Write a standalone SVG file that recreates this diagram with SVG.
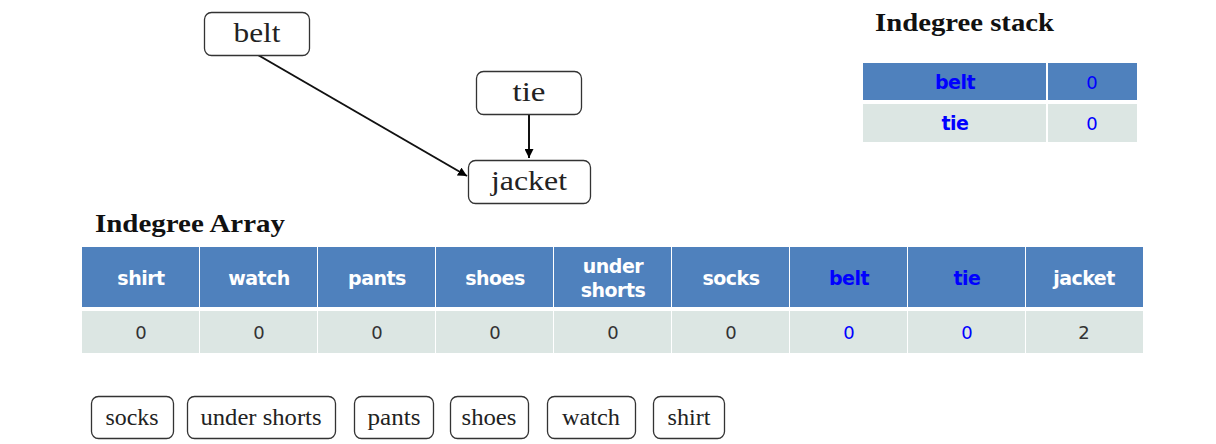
<svg xmlns="http://www.w3.org/2000/svg" width="1216" height="444" viewBox="0 0 1216 444">
<defs>
<marker id="arr" viewBox="0 0 10 10" refX="10" refY="5" markerWidth="9" markerHeight="9" markerUnits="userSpaceOnUse" orient="auto"><path d="M0,0 L10,5 L0,10 z" fill="#000"/></marker>
<style>
.node rect{fill:#fff;stroke:#333;stroke-width:1.3}
.node text{font-family:"Liberation Serif",serif;fill:#222;text-anchor:middle}
.big{font-size:27px}
.small{font-size:23px}
.title{font-family:"Liberation Serif",serif;font-weight:bold;font-size:26px;fill:#111}
.hd{fill:#4F81BD}
.vl{fill:#DCE6E3}
.ht{font-family:"DejaVu Sans",sans-serif;font-weight:bold;font-size:19px;fill:#fff;text-anchor:middle;letter-spacing:-0.5px}
.vt{font-family:"DejaVu Sans",sans-serif;font-size:18px;fill:#333;text-anchor:middle}
.blue{fill:#0000FF}
.conn line{stroke:#111;stroke-width:2}
</style>
</defs>
<rect width="1216" height="444" fill="#fff"/>

<g id="conns" class="conn">
<line x1="258" y1="55" x2="467" y2="176" marker-end="url(#arr)"/>
<line x1="529" y1="115" x2="529" y2="158" marker-end="url(#arr)"/>
</g>

<g id="node-belt" class="node"><rect x="204.5" y="12.5" width="105" height="43" rx="7"/><text class="big" x="257" y="42" textLength="47" lengthAdjust="spacingAndGlyphs">belt</text></g>
<g id="node-tie" class="node"><rect x="476.5" y="71.5" width="105" height="43" rx="7"/><text class="big" x="529" y="101" textLength="33" lengthAdjust="spacingAndGlyphs">tie</text></g>
<g id="node-jacket" class="node"><rect x="468.5" y="160.5" width="122" height="43" rx="7"/><text class="big" x="529" y="190" textLength="76" lengthAdjust="spacingAndGlyphs">jacket</text></g>

<g id="stack">
<text class="title" x="875" y="31" textLength="179" lengthAdjust="spacingAndGlyphs">Indegree stack</text>
<rect class="hd" x="863" y="63" width="183" height="37"/>
<rect class="hd" x="1048" y="63" width="89" height="37"/>
<rect class="vl" x="863" y="104" width="183" height="38"/>
<rect class="vl" x="1048" y="104" width="89" height="38"/>
<text class="ht blue" x="955" y="89">belt</text>
<text class="vt blue" x="1092" y="89">0</text>
<text class="ht blue" x="955" y="130">tie</text>
<text class="vt blue" x="1092" y="130">0</text>
</g>

<g id="array">
<text class="title" x="95" y="232" textLength="190" lengthAdjust="spacingAndGlyphs">Indegree Array</text>
<g>
<rect class="hd" x="82" y="247" width="117" height="60"/>
<rect class="hd" x="200" y="247" width="117" height="60"/>
<rect class="hd" x="318" y="247" width="117" height="60"/>
<rect class="hd" x="436" y="247" width="117" height="60"/>
<rect class="hd" x="554" y="247" width="117" height="60"/>
<rect class="hd" x="672" y="247" width="117" height="60"/>
<rect class="hd" x="790" y="247" width="117" height="60"/>
<rect class="hd" x="908" y="247" width="117" height="60"/>
<rect class="hd" x="1026" y="247" width="117" height="60"/>
<rect class="vl" x="82" y="311" width="117" height="42"/>
<rect class="vl" x="200" y="311" width="117" height="42"/>
<rect class="vl" x="318" y="311" width="117" height="42"/>
<rect class="vl" x="436" y="311" width="117" height="42"/>
<rect class="vl" x="554" y="311" width="117" height="42"/>
<rect class="vl" x="672" y="311" width="117" height="42"/>
<rect class="vl" x="790" y="311" width="117" height="42"/>
<rect class="vl" x="908" y="311" width="117" height="42"/>
<rect class="vl" x="1026" y="311" width="117" height="42"/>
</g>
<text class="ht" x="141" y="285">shirt</text>
<text class="ht" x="259" y="285">watch</text>
<text class="ht" x="377" y="285">pants</text>
<text class="ht" x="495" y="285">shoes</text>
<text class="ht" x="613" y="273">under</text>
<text class="ht" x="613" y="297">shorts</text>
<text class="ht" x="731" y="285">socks</text>
<text class="ht blue" x="849" y="285">belt</text>
<text class="ht blue" x="967" y="285">tie</text>
<text class="ht" x="1084" y="285">jacket</text>
<text class="vt" x="141" y="339">0</text>
<text class="vt" x="259" y="339">0</text>
<text class="vt" x="377" y="339">0</text>
<text class="vt" x="495" y="339">0</text>
<text class="vt" x="613" y="339">0</text>
<text class="vt" x="731" y="339">0</text>
<text class="vt blue" x="849" y="339">0</text>
<text class="vt blue" x="967" y="339">0</text>
<text class="vt" x="1084" y="339">2</text>
</g>

<g id="node-socks" class="node"><rect x="91.5" y="396.5" width="82" height="42" rx="7"/><text class="small" x="132" y="425" textLength="53" lengthAdjust="spacingAndGlyphs">socks</text></g>
<g id="node-undershorts" class="node"><rect x="187.5" y="396.5" width="148" height="42" rx="7"/><text class="small" x="261" y="425" textLength="121" lengthAdjust="spacingAndGlyphs">under shorts</text></g>
<g id="node-pants" class="node"><rect x="354.5" y="396.5" width="79" height="42" rx="7"/><text class="small" x="394" y="425" textLength="53" lengthAdjust="spacingAndGlyphs">pants</text></g>
<g id="node-shoes" class="node"><rect x="450.5" y="396.5" width="78" height="42" rx="7"/><text class="small" x="489" y="425" textLength="55" lengthAdjust="spacingAndGlyphs">shoes</text></g>
<g id="node-watch" class="node"><rect x="547.5" y="396.5" width="88" height="42" rx="7"/><text class="small" x="591" y="425" textLength="58" lengthAdjust="spacingAndGlyphs">watch</text></g>
<g id="node-shirt" class="node"><rect x="653.5" y="396.5" width="71" height="42" rx="7"/><text class="small" x="689" y="425" textLength="43" lengthAdjust="spacingAndGlyphs">shirt</text></g>
</svg>
